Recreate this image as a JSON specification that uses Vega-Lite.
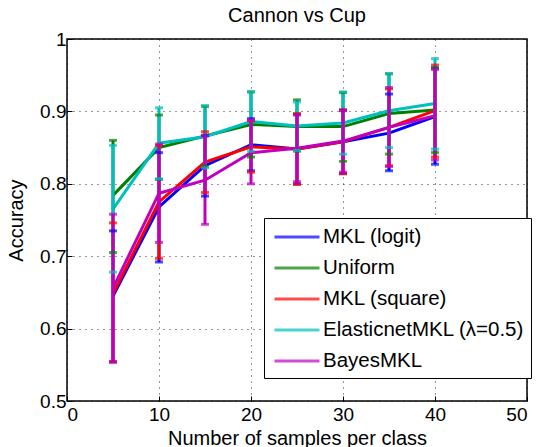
{
  "$schema": "https://vega.github.io/schema/vega-lite/v6.json",
  "width": 460,
  "height": 362,
  "autosize": "none",
  "padding": {"left": 67, "top": 39, "right": 13, "bottom": 46},
  "background": "white",
  "title": {"text": "Cannon vs Cup", "fontSize": 20, "fontWeight": "normal", "font": "Liberation Sans", "color": "black", "offset": 4},
  "config": {
    "font": "Liberation Sans",
    "view": {"stroke": "black", "strokeWidth": 1.5},
    "axis": {
      "domain": false,
      "grid": true,
      "gridColor": "black",
      "gridDash": [1, 5],
      "gridWidth": 1,
      "gridOpacity": 0.8,
      "ticks": true,
      "tickSize": -5,
      "tickColor": "black",
      "tickWidth": 1,
      "labelFontSize": 19,
      "labelColor": "black",
      "titleFontSize": 20,
      "titleFontWeight": "normal",
      "titleColor": "black"
    }
  },
  "data": {
    "values": [
      {"method": "MKL (logit)", "n": 5, "acc": 0.645, "lo": 0.554, "hi": 0.735},
      {"method": "MKL (logit)", "n": 10, "acc": 0.768, "lo": 0.692, "hi": 0.843},
      {"method": "MKL (logit)", "n": 15, "acc": 0.825, "lo": 0.783, "hi": 0.867},
      {"method": "MKL (logit)", "n": 20, "acc": 0.854, "lo": 0.818, "hi": 0.89},
      {"method": "MKL (logit)", "n": 25, "acc": 0.848, "lo": 0.8, "hi": 0.896},
      {"method": "MKL (logit)", "n": 30, "acc": 0.858, "lo": 0.814, "hi": 0.902},
      {"method": "MKL (logit)", "n": 35, "acc": 0.87, "lo": 0.818, "hi": 0.924},
      {"method": "MKL (logit)", "n": 40, "acc": 0.893, "lo": 0.827, "hi": 0.96},
      {"method": "Uniform", "n": 5, "acc": 0.784, "lo": 0.705, "hi": 0.86},
      {"method": "Uniform", "n": 10, "acc": 0.85, "lo": 0.806, "hi": 0.895},
      {"method": "Uniform", "n": 15, "acc": 0.866, "lo": 0.824, "hi": 0.907},
      {"method": "Uniform", "n": 20, "acc": 0.882, "lo": 0.837, "hi": 0.927},
      {"method": "Uniform", "n": 25, "acc": 0.879, "lo": 0.845, "hi": 0.916},
      {"method": "Uniform", "n": 30, "acc": 0.879, "lo": 0.831, "hi": 0.926},
      {"method": "Uniform", "n": 35, "acc": 0.897, "lo": 0.841, "hi": 0.952},
      {"method": "Uniform", "n": 40, "acc": 0.902, "lo": 0.843, "hi": 0.96},
      {"method": "MKL (square)", "n": 5, "acc": 0.648, "lo": 0.554, "hi": 0.746},
      {"method": "MKL (square)", "n": 10, "acc": 0.775, "lo": 0.697, "hi": 0.853},
      {"method": "MKL (square)", "n": 15, "acc": 0.83, "lo": 0.788, "hi": 0.872},
      {"method": "MKL (square)", "n": 20, "acc": 0.851, "lo": 0.816, "hi": 0.887},
      {"method": "MKL (square)", "n": 25, "acc": 0.848, "lo": 0.799, "hi": 0.897},
      {"method": "MKL (square)", "n": 30, "acc": 0.858, "lo": 0.814, "hi": 0.902},
      {"method": "MKL (square)", "n": 35, "acc": 0.878, "lo": 0.825, "hi": 0.931},
      {"method": "MKL (square)", "n": 40, "acc": 0.901, "lo": 0.837, "hi": 0.964},
      {"method": "ElasticnetMKL (λ=0.5)", "n": 5, "acc": 0.765, "lo": 0.678, "hi": 0.853},
      {"method": "ElasticnetMKL (λ=0.5)", "n": 10, "acc": 0.856, "lo": 0.807, "hi": 0.905},
      {"method": "ElasticnetMKL (λ=0.5)", "n": 15, "acc": 0.865, "lo": 0.822, "hi": 0.908},
      {"method": "ElasticnetMKL (λ=0.5)", "n": 20, "acc": 0.886, "lo": 0.845, "hi": 0.927},
      {"method": "ElasticnetMKL (λ=0.5)", "n": 25, "acc": 0.88, "lo": 0.846, "hi": 0.913},
      {"method": "ElasticnetMKL (λ=0.5)", "n": 30, "acc": 0.884, "lo": 0.841, "hi": 0.927},
      {"method": "ElasticnetMKL (λ=0.5)", "n": 35, "acc": 0.901, "lo": 0.85, "hi": 0.952},
      {"method": "ElasticnetMKL (λ=0.5)", "n": 40, "acc": 0.911, "lo": 0.848, "hi": 0.973},
      {"method": "BayesMKL", "n": 5, "acc": 0.656, "lo": 0.554, "hi": 0.758},
      {"method": "BayesMKL", "n": 10, "acc": 0.787, "lo": 0.719, "hi": 0.855},
      {"method": "BayesMKL", "n": 15, "acc": 0.805, "lo": 0.744, "hi": 0.866},
      {"method": "BayesMKL", "n": 20, "acc": 0.843, "lo": 0.8, "hi": 0.888},
      {"method": "BayesMKL", "n": 25, "acc": 0.849, "lo": 0.803, "hi": 0.895},
      {"method": "BayesMKL", "n": 30, "acc": 0.859, "lo": 0.816, "hi": 0.901},
      {"method": "BayesMKL", "n": 35, "acc": 0.878, "lo": 0.824, "hi": 0.933},
      {"method": "BayesMKL", "n": 40, "acc": 0.894, "lo": 0.833, "hi": 0.958}
    ]
  },
  "encoding": {
    "x": {"field": "n", "type": "quantitative", "scale": {"domain": [0, 50], "nice": false, "zero": false},
      "axis": {"values": [0, 10, 20, 30, 40, 50], "format": "d", "title": "Number of samples per class", "labelPadding": 9, "titlePadding": 4}},
    "color": {"field": "method", "type": "nominal",
      "scale": {"domain": ["MKL (logit)", "Uniform", "MKL (square)", "ElasticnetMKL (λ=0.5)", "BayesMKL"],
        "range": ["#0000ff", "#008000", "#ff0000", "#00bfbf", "#bf00bf"]},
      "legend": {"title": null, "orient": "none", "legendX": 197, "legendY": 179,
        "symbolType": "M-2,0H2", "symbolSize": 506, "symbolStrokeWidth": 3, "symbolOffset": 14,
        "labelFontSize": 20.5, "labelColor": "black", "labelOffset": 13,
        "strokeColor": "black", "fillColor": "white", "padding": 6, "rowPadding": 7,
        "labelLimit": 300}}
  },
  "layer": [
    {
      "mark": {"type": "line", "strokeWidth": 3},
      "encoding": {"y": {"field": "acc", "type": "quantitative", "scale": {"domain": [0.5, 1], "nice": false, "zero": false},
        "axis": {"values": [0.5, 0.6, 0.7, 0.8, 0.9, 1], "format": "~g", "title": "Accuracy", "labelPadding": 6, "titlePadding": 13}}}
    },
    {
      "mark": {"type": "rule", "strokeWidth": 3},
      "encoding": {"y": {"field": "lo", "type": "quantitative"}, "y2": {"field": "hi"}}
    },
    {
      "mark": {"type": "tick", "orient": "horizontal", "size": 8, "thickness": 3},
      "encoding": {"y": {"field": "lo", "type": "quantitative"}}
    },
    {
      "mark": {"type": "tick", "orient": "horizontal", "size": 8, "thickness": 3},
      "encoding": {"y": {"field": "hi", "type": "quantitative"}}
    }
  ]
}
